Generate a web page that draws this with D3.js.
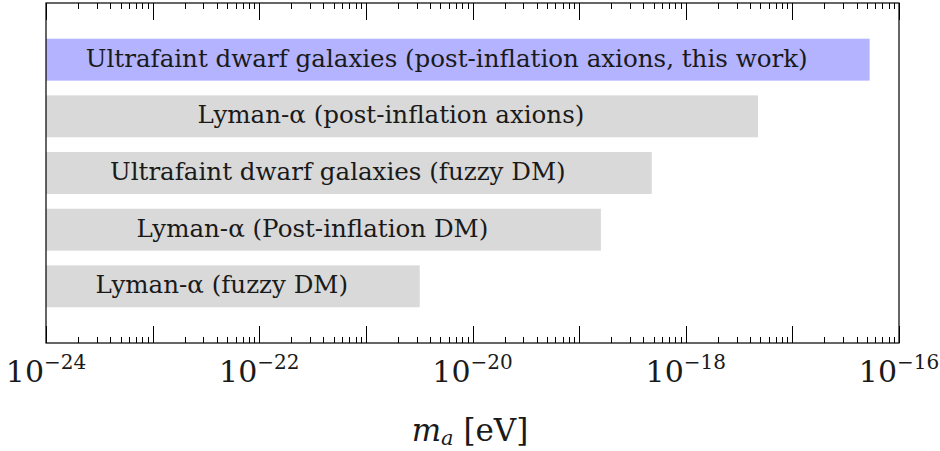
<!DOCTYPE html>
<html><head><meta charset="utf-8">
<script src="https://cdn.jsdelivr.net/npm/d3@7"></script>
<style>
body{margin:0;background:#fff;}
text{font-family:"DejaVu Serif",serif;fill:#1a1a1a;}
</style></head>
<body><svg id="c" width="940" height="451"></svg>
<script>
const labels = [
  "Ultrafaint dwarf galaxies (post-inflation axions, this work)",
  "Lyman-\u03B1 (post-inflation axions)",
  "Ultrafaint dwarf galaxies (fuzzy DM)",
  "Lyman-\u03B1 (Post-inflation DM)",
  "Lyman-\u03B1 (fuzzy DM)"
];
const barStart = [6.2e-25, 6.2e-25, 6.2e-25, 6.2e-25, 6.2e-25];
const barEnd = [5.3e-17, 4.76e-18, 4.8e-19, 1.6e-19, 3.2e-21];
const barColors = ["#b3b3ff", "#d9d9d9", "#d9d9d9", "#d9d9d9", "#d9d9d9"];
const majorExps = [-24,-23,-22,-21,-20,-19,-18,-17,-16];
const labelExps = [-24,-22,-20,-18,-16];

const svg = d3.select("#c");
const L=46, R=899, T=3, B=343;
const x = d3.scaleLog().domain([1e-24,1e-16]).range([L,R]);
const y = d3.scaleLinear().domain([0,6]).range([T,B]);
const bh = y(0.74)-y(0);

svg.append("clipPath").attr("id","clip").append("rect")
  .attr("x",L).attr("y",T).attr("width",R-L).attr("height",B-T);

const probe = svg.append("text").attr("font-size",20).text(labels[0]);
const fs = 20*722/probe.node().getComputedTextLength();
probe.remove();

const g = svg.append("g").attr("clip-path","url(#clip)");
labels.forEach((lab,i)=>{
  const x0=x(barStart[i]), x1=x(barEnd[i]);
  const yc=y(i+1);
  g.append("rect").attr("x",x0).attr("y",yc-bh/2).attr("width",x1-x0).attr("height",bh)
    .attr("fill",barColors[i]);
  svg.append("text").attr("x",(x0+x1)/2).attr("y",yc+7).attr("text-anchor","middle")
    .attr("font-size",fs).text(lab);
});

svg.append("rect").attr("x",L).attr("y",T).attr("width",R-L).attr("height",B-T)
  .attr("fill","none").attr("stroke","#000").attr("stroke-width",1.2);

const minor=[];
majorExps.slice(0,-1).forEach(e=>{for(let k=2;k<=9;k++) minor.push(k*Math.pow(10,e));});
const majors=majorExps.map(e=>Math.pow(10,e));
const tk=svg.append("g").attr("stroke","#000").attr("stroke-width",1);
[[majors,17],[minor,6]].forEach(([vals,len])=>{
  vals.forEach(v=>{
    const xx=Math.round(x(v))+0.5;
    tk.append("line").attr("x1",xx).attr("x2",xx).attr("y1",B).attr("y2",B-len);
    tk.append("line").attr("x1",xx).attr("x2",xx).attr("y1",T).attr("y2",T+len);
  });
});

labelExps.forEach(e=>{
  const t=svg.append("text").attr("x",x(Math.pow(10,e))).attr("y",382)
    .attr("text-anchor","middle").attr("font-size",30);
  t.append("tspan").text("10");
  t.append("tspan").attr("font-size",20).attr("dy",-13).text("\u2212"+Math.abs(e));
});

const tt=svg.append("text").attr("x",470).attr("y",441).attr("text-anchor","middle").attr("font-size",31);
tt.append("tspan").attr("font-style","italic").text("m");
tt.append("tspan").attr("font-style","italic").attr("font-size",21).attr("dy",4).text("a");
tt.append("tspan").attr("dy",-4).text(" [eV]");
</script></body></html>
